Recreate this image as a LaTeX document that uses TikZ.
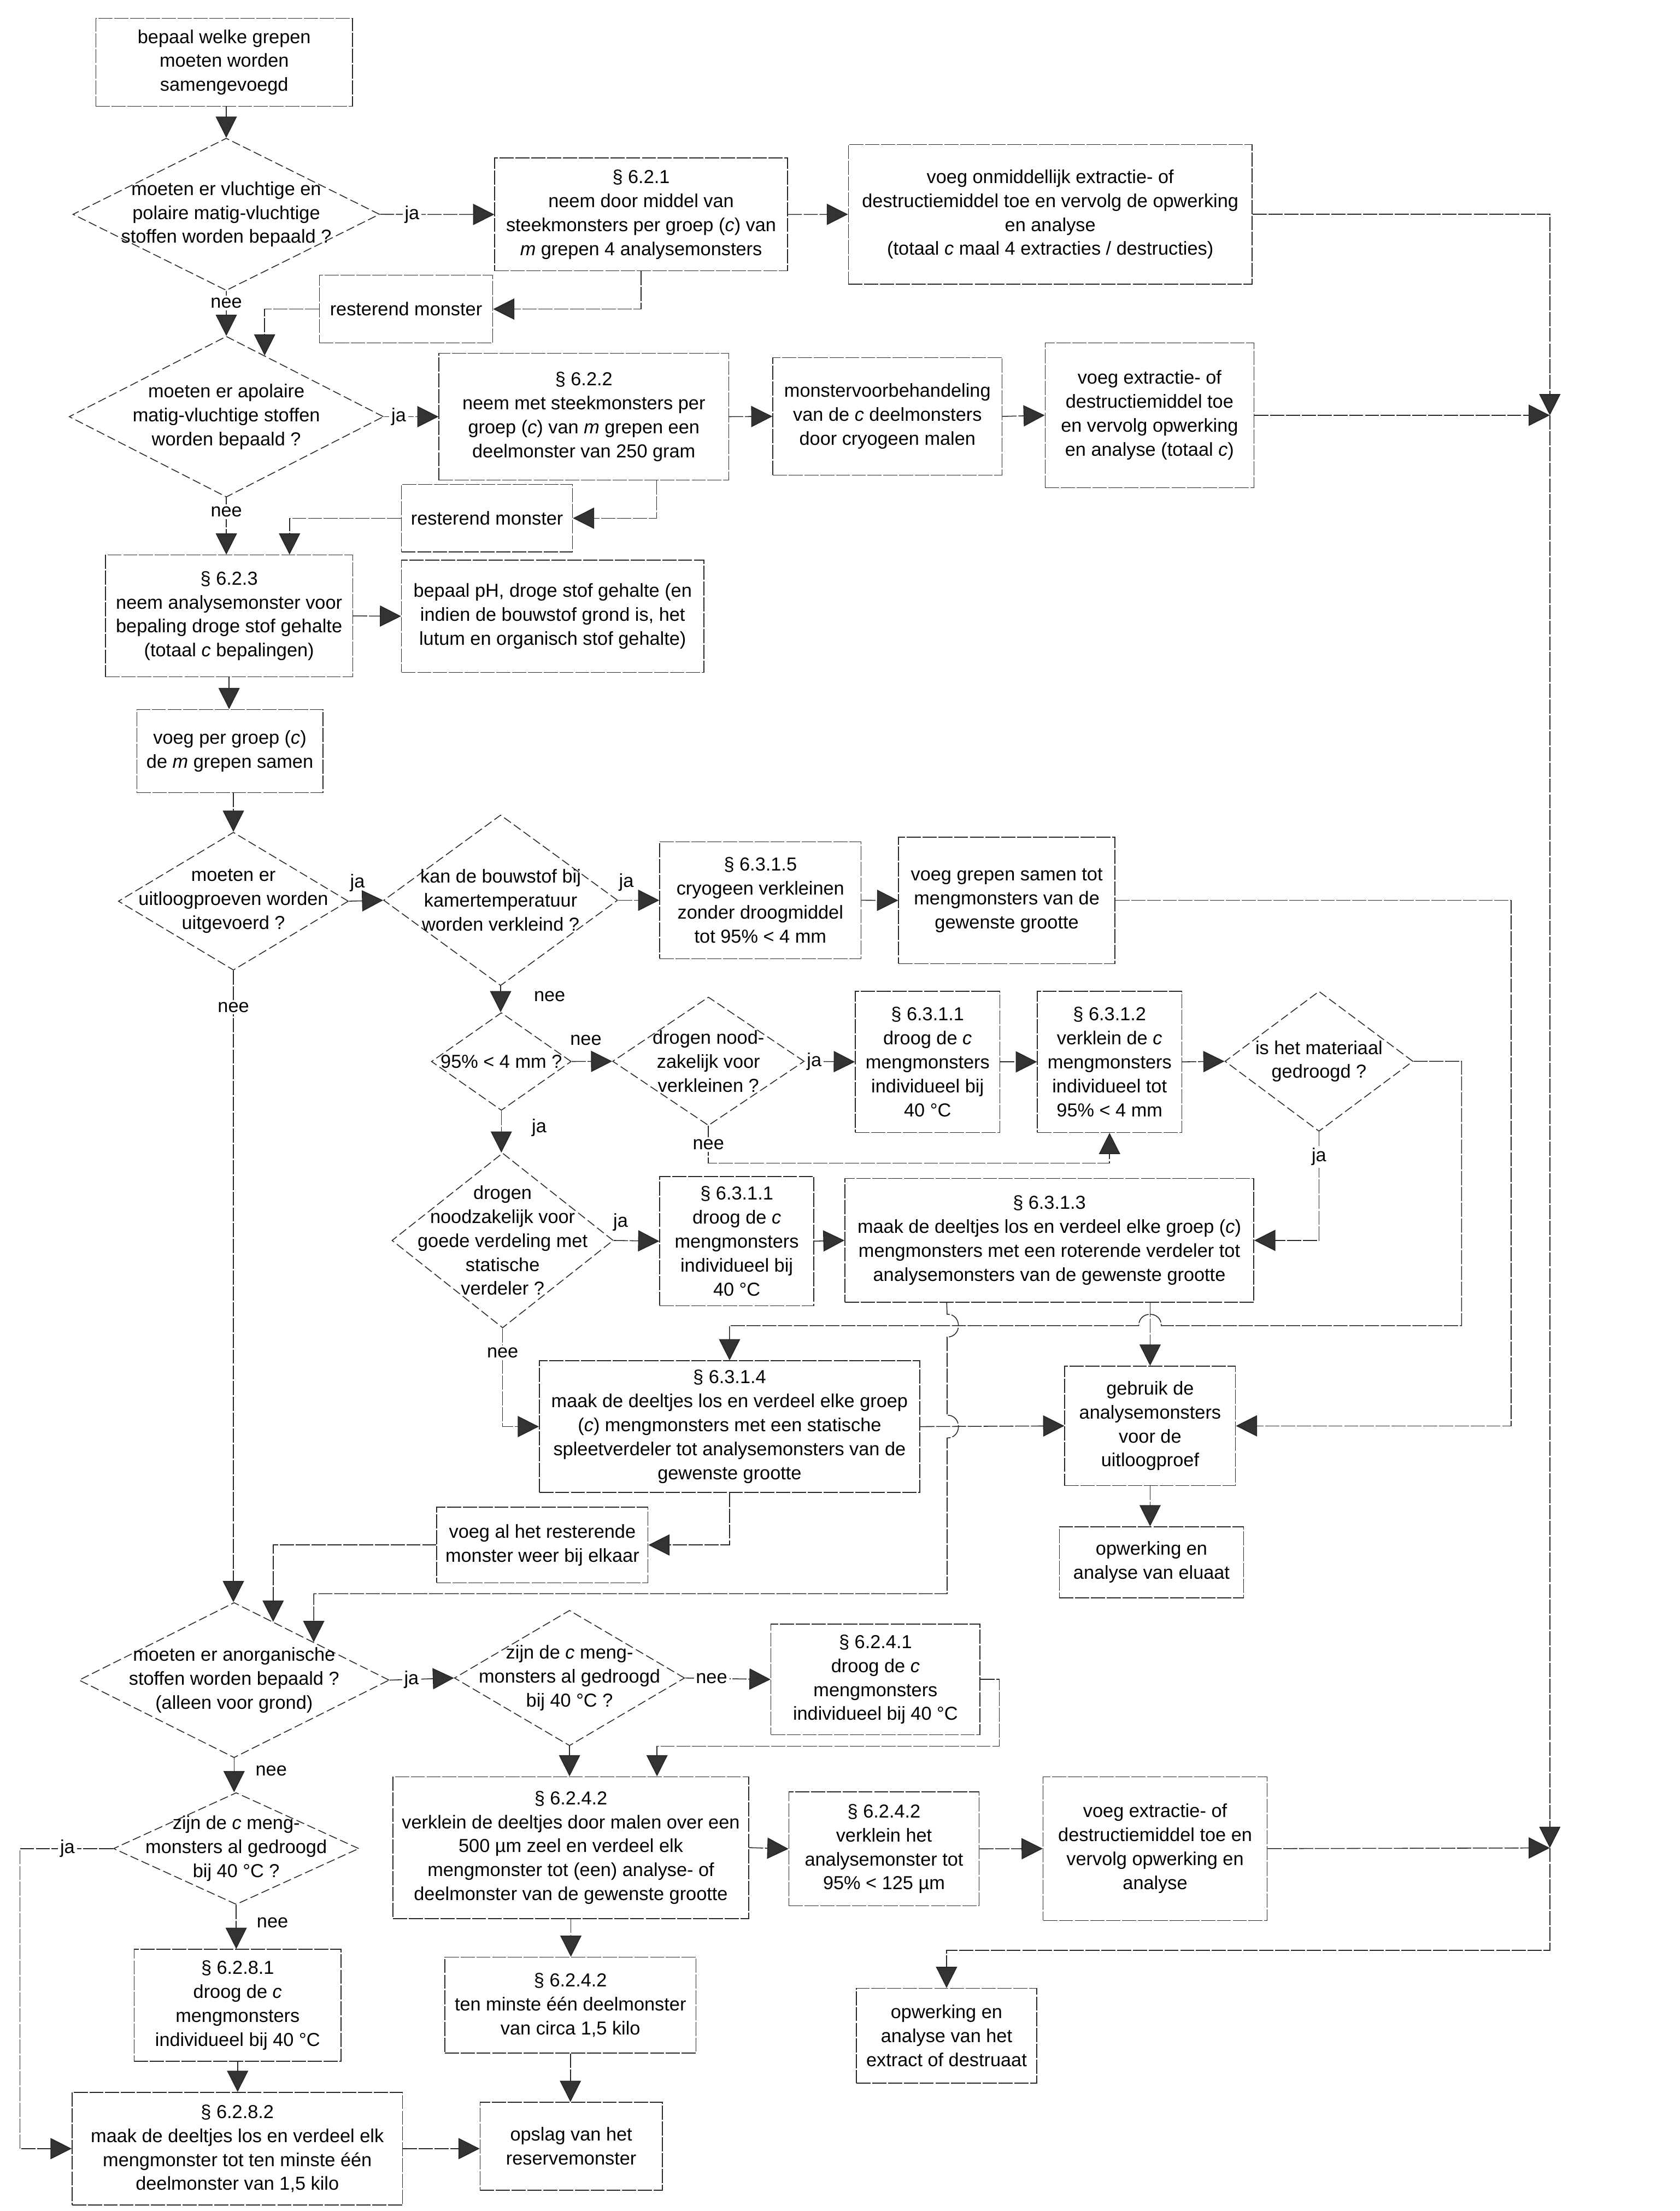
\documentclass[tikz,border=0pt]{standalone}
\usepackage{fontspec}
\setmainfont{Liberation Sans}
\usetikzlibrary{arrows.meta,shapes.geometric,calc}
\begin{document}
\begin{tikzpicture}[x=1pt,y=-1pt,
  every node/.style={font=\fontsize{13.3}{17}\selectfont, text=black},
  line/.style={draw=black!85, line width=0.6pt, dash pattern=on 10pt off 1.2pt},
  box/.style={line, rectangle, inner sep=0pt, align=center},
  dia/.style={line, diamond, inner sep=0pt, dash pattern=on 6pt off 2.5pt},
  txt/.style={align=center, inner sep=0pt},
  arr/.style={line, -{Triangle[length=15pt,width=15pt,fill=black!80]}},
  lbl/.style={fill=white, inner sep=1.5pt},
]
\fill[white] (0,0) rectangle (1191,1568);
\useasboundingbox (0,0) rectangle (1191,1568);

% ---------- nodes ----------
\node[box, minimum width=182pt, minimum height=62.3pt] (b1) at (159,44.2) {bepaal welke grepen\\moeten worden\\samengevoegd};

\node[dia, minimum width=217.5pt, minimum height=108pt] (d1) at (160.45,152) {};
\node[txt] (d1t) at (d1) {moeten er vluchtige en\\polaire matig-vluchtige\\stoffen worden bepaald ?};

\node[box, minimum width=207.6pt, minimum height=80pt] (b621) at (454.6,152.1) {§ 6.2.1\\neem door middel van\\steekmonsters per groep (\textit{c}) van\\\textit{m} grepen 4 analysemonsters};

\node[box, minimum width=286.3pt, minimum height=99pt] (voeg1) at (744.75,152) {voeg onmiddellijk extractie- of\\destructiemiddel toe en vervolg de opwerking\\en analyse\\(totaal \textit{c} maal 4 extracties / destructies)};

\node[box, minimum width=122.9pt, minimum height=48pt] (rm1) at (287.95,219.2) {resterend monster};

\node[dia, minimum width=223pt, minimum height=114pt] (d2) at (160.5,295.5) {};
\node[txt] (d2t) at (d2) {moeten er apolaire\\matig-vluchtige stoffen\\worden bepaald ?};

\node[box, minimum width=205.5pt, minimum height=90pt] (b622) at (414,295.5) {§ 6.2.2\\neem met steekmonsters per\\groep (\textit{c}) van \textit{m} grepen een\\deelmonster van 250 gram};

\node[box, minimum width=162.6pt, minimum height=83.4pt] (mvb) at (629.3,295.3) {monstervoorbehandeling\\van de \textit{c} deelmonsters\\door cryogeen malen};

\node[box, minimum width=148.1pt, minimum height=102.6pt] (voeg2) at (815.15,294.5) {voeg extractie- of\\destructiemiddel toe\\en vervolg opwerking\\en analyse (totaal \textit{c})};

\node[box, minimum width=121.3pt, minimum height=48pt] (rm2) at (345.35,367.5) {resterend monster};

\node[box, minimum width=175.3pt, minimum height=86.4pt] (b623) at (162.45,436.8) {§ 6.2.3\\neem analysemonster voor\\bepaling droge stof gehalte\\(totaal \textit{c} bepalingen)};

\node[box, minimum width=214.4pt, minimum height=79.7pt] (bph) at (391.9,437) {bepaal pH, droge stof gehalte (en\\indien de bouwstof grond is, het\\lutum en organisch stof gehalte)};

\node[box, minimum width=132pt, minimum height=59pt] (vpg) at (163,532.7) {voeg per groep (\textit{c})\\de \textit{m} grepen samen};

\node[dia, minimum width=163.2pt, minimum height=97.8pt] (d3) at (165.5,639.1) {};
\node[txt] (d3t) at (d3) {moeten er\\uitloogproeven worden\\uitgevoerd ?};

\node[dia, minimum width=166pt, minimum height=121pt] (d4) at (355,638.45) {};
\node[txt] (d4t) at (d4) {kan de bouwstof bij\\kamertemperatuur\\worden verkleind ?};

\node[box, minimum width=142.8pt, minimum height=82.9pt] (b6315) at (539.2,638.45) {§ 6.3.1.5\\cryogeen verkleinen\\zonder droogmiddel\\tot 95\% < 4 mm};

\node[box, minimum width=153.4pt, minimum height=89.7pt] (vgs) at (713.9,638.55) {voeg grepen samen tot\\mengmonsters van de\\gewenste grootte};

\node[dia, minimum width=99.2pt, minimum height=69.3pt] (d5) at (355.5,752.8) {};
\node[txt] (d5t) at (d5) {95\% < 4 mm ?};

\node[dia, minimum width=135.9pt, minimum height=91.1pt] (d10) at (502.35,752.65) {};
\node[txt] (d10t) at (d10) {drogen nood-\\zakelijk voor\\verkleinen ?};

\node[box, minimum width=102.5pt, minimum height=100.1pt] (b6311a) at (657.75,753.05) {§ 6.3.1.1\\droog de \textit{c}\\mengmonsters\\individueel bij\\40 °C};

\node[box, minimum width=102.4pt, minimum height=100.1pt] (b6312) at (786.8,753.05) {§ 6.3.1.2\\verklein de \textit{c}\\mengmonsters\\individueel tot\\95\% < 4 mm};

\node[dia, minimum width=133.4pt, minimum height=99.3pt] (d11) at (935.3,752.65) {};
\node[txt] (d11t) at (d11) {is het materiaal\\gedroogd ?};

\node[dia, minimum width=157pt, minimum height=124pt] (d6) at (356.4,879.7) {};
\node[txt] (d6t) at (d6) {drogen\\noodzakelijk voor\\goede verdeling met\\statische\\verdeler ?};

\node[box, minimum width=109.3pt, minimum height=91.6pt] (b6311b) at (522.45,880.2) {§ 6.3.1.1\\droog de \textit{c}\\mengmonsters\\individueel bij\\40 °C};

\node[box, minimum width=290pt, minimum height=87.9pt] (b6313) at (744.1,879.65) {§ 6.3.1.3\\maak de deeltjes los en verdeel elke groep (\textit{c})\\mengmonsters met een roterende verdeler tot\\analysemonsters van de gewenste grootte};

\node[box, minimum width=269.9pt, minimum height=93.4pt] (b6314) at (517.35,1011.7) {§ 6.3.1.4\\maak de deeltjes los en verdeel elke groep\\(\textit{c}) mengmonsters met een statische\\spleetverdeler tot analysemonsters van de\\gewenste grootte};

\node[box, minimum width=121.1pt, minimum height=84.8pt] (gebruik) at (815.55,1011.2) {gebruik de\\analysemonsters\\voor de\\uitloogproef};

\node[box, minimum width=130.7pt, minimum height=50.5pt] (oae) at (816.55,1107.95) {opwerking en\\analyse van eluaat};

\node[box, minimum width=149.8pt, minimum height=53.7pt] (vah) at (384.6,1095.65) {voeg al het resterende\\monster weer bij elkaar};

\node[dia, minimum width=220pt, minimum height=110pt] (d7) at (166,1191.5) {};
\node[txt] (d7t) at (d7) {moeten er anorganische\\stoffen worden bepaald ?\\(alleen voor grond)};

\node[dia, minimum width=163.3pt, minimum height=96pt] (d8) at (403.85,1190) {};
\node[txt] (d8t) at (d8) {zijn de \textit{c} meng-\\monsters al gedroogd\\bij 40 °C ?};

\node[box, minimum width=148.2pt, minimum height=78.4pt] (b6241) at (620.8,1191) {§ 6.2.4.1\\droog de \textit{c}\\mengmonsters\\individueel bij 40 °C};

\node[dia, minimum width=174pt, minimum height=79.3pt] (d9) at (167.5,1310.95) {};
\node[txt] (d9t) at (d9) {zijn de \textit{c} meng-\\monsters al gedroogd\\bij 40 °C ?};

\node[box, minimum width=252.2pt, minimum height=100.6pt] (b6242a) at (404.8,1310.3) {§ 6.2.4.2\\verklein de deeltjes door malen over een\\500 µm zeel en verdeel elk\\mengmonster tot (een) analyse- of\\deelmonster van de gewenste grootte};

\node[box, minimum width=134.9pt, minimum height=80.7pt] (b6242b) at (626.85,1311.15) {§ 6.2.4.2\\verklein het\\analysemonster tot\\95\% < 125 µm};

\node[box, minimum width=158.8pt, minimum height=102pt] (voeg3) at (819.1,1311) {voeg extractie- of\\destructiemiddel toe en\\vervolg opwerking en\\analyse};

\node[box, minimum width=146.8pt, minimum height=79.3pt] (b6281) at (168.5,1422.05) {§ 6.2.8.1\\droog de \textit{c}\\mengmonsters\\individueel bij 40 °C};

\node[box, minimum width=234.4pt, minimum height=79.9pt] (b6282) at (168.3,1523.75) {§ 6.2.8.2\\maak de deeltjes los en verdeel elk\\mengmonster tot ten minste één\\deelmonster van 1,5 kilo};

\node[box, minimum width=178.2pt, minimum height=68pt] (b6242c) at (404.5,1422) {§ 6.2.4.2\\ten minste één deelmonster\\van circa 1,5 kilo};

\node[box, minimum width=129.3pt, minimum height=62.3pt] (opslag) at (405.05,1522.05) {opslag van het\\reservemonster};

\node[box, minimum width=127.8pt, minimum height=67.2pt] (oaex) at (671.2,1443.7) {opwerking en\\analyse van het\\extract of destruaat};

\coordinate (J1) at (1099,294.5);
\coordinate (J2) at (1099,1310.5);
\coordinate (J3) at (1099,1383.2);
\coordinate (R1) at (1071.5,638.55);
\coordinate (R2) at (1036.4,752.65);
\coordinate (R3) at (1036.4,940.1);
\coordinate (V1) at ($(b6313.south west)+(72.5,0)$);

% ---------- connectors ----------
\draw[arr] (d1.north |- b1.south) -- (d1.north);
\draw[arr] (d1.east) -- node[lbl,pos=0.28]{ja} (b621.west);
\draw[arr] (b621.east) -- (voeg1.west);
\draw[arr] (voeg1.east) -| (J1);
\draw[arr] (voeg2.east) -- (J1);
\draw[arr] (J1) -- (J2);
\draw[arr] (voeg3.east) -- (J2);
\draw[arr] (J2) -- (J3) -| (oaex.north);

\draw[arr] (d1.south) -- node[lbl,pos=0.27]{nee} (d2.north);
\draw[arr] (b621.south) |- (rm1.east);
\draw[arr] (rm1.west) -| ($(d2.north)!0.243!(d2.east)$);
\draw[arr] (d2.east) -- node[lbl,pos=0.27]{ja} (b622.west);
\draw[arr] (b622.east) -- (mvb.west);
\draw[arr] (mvb.east) -- (voeg2.west);
\draw[arr] (d2.south) -- node[lbl,pos=0.25]{nee} (d2.south |- b623.north);
\draw[arr] ($(b622.south)+(51.6,0)$) |- (rm2.east);
\draw[arr] (rm2.west) -| ($(b623.north)+(42.85,0)$);
\draw[arr] (b623.east) -- (bph.west);
\draw[arr] (b623.south) -- (b623.south |- vpg.north);
\draw[arr] (d3.north |- vpg.south) -- (d3.north);

\draw[arr] (d3.east) -- node[above=3pt,pos=0.25]{ja} (d4.west);
\draw[arr] (d3.south) -- node[lbl,pos=0.058]{nee} (d3.south |- d7.north);
\draw[arr] (d4.east) -- node[above=3pt,pos=0.2]{ja} (b6315.west);
\draw[arr] (b6315.east) -- (vgs.west);
\draw[arr] (vgs.east) -- (R1) |- (gebruik.east);
\draw[arr] (d4.south) -- node[right=20pt,pos=0.4]{nee} (d4.south |- d5.north);
\draw[arr] (d5.east) -- node[above=8pt,pos=0.35]{nee} (d10.west);
\draw[arr] (d10.east) -- node[lbl,pos=0.19]{ja} (b6311a.west);
\draw[arr] (b6311a.east) -- (b6312.west);
\draw[arr] (b6312.east) -- (d11.west);
\draw[arr] (d10.south) -- node[lbl]{nee} ($(d10.south)+(0,26.4)$) -| (b6312.south);
\draw[arr] (d5.south) -- node[right=18pt,pos=0.4]{ja} (d5.south |- d6.north);
\draw[arr] (d6.east) -- node[above=3pt,pos=0.15]{ja} (b6311b.west);
\draw[arr] (b6311b.east) -- (b6313.west);
\draw[arr] (d6.south) -- node[lbl,pos=0.25]{nee} (d6.south |- b6314.west) -- (b6314.west);
\draw[arr] (d11.south) -- node[lbl,pos=0.23]{ja} (d11.south |- b6313.east) -- (b6313.east);
\draw[arr] (d11.east) -- (R2) -- (R3) -- (823.5,940.1) .. controls (823.5,929.4) and (807.5,929.4) .. (807.5,940.1) -| (b6314.north);
\draw[arr] (gebruik.north |- b6313.south) -- (gebruik.north);
\draw[arr] (V1) -- (671.6,932) .. controls (682.3,932) and (682.3,948.2) .. (671.6,948.2) -- (671.6,1003.6) .. controls (682.3,1003.6) and (682.3,1019.8) .. (671.6,1019.8) -- (671.6,1130.2) -| ($(d7.north)!0.512!(d7.east)$);
\draw[arr] (b6314.east) -- (gebruik.west);
\draw[arr] (gebruik.south) -- (gebruik.south |- oae.north);
\draw[arr] (b6314.south) |- (vah.east);
\draw[arr] (vah.west) -| ($(d7.north)!0.251!(d7.east)$);

\draw[arr] (d7.east) -- node[lbl,pos=0.34]{ja} (d8.west);
\draw[arr] (d8.east) -- node[lbl,pos=0.31]{nee} (b6241.west);
\draw[arr] (b6241.east) -- ++(13.5,0) |- ($(b6242a.north)+(61.1,-21.3)$) -- ($(b6242a.north)+(61.1,0)$);
\draw[arr] (d8.south) -- (d8.south |- b6242a.north);
\draw[arr] (b6242a.east) -- (b6242b.west);
\draw[arr] (b6242b.east) -- (voeg3.west);
\draw[arr] (b6242a.south) -- (b6242a.south |- b6242c.north);
\draw[arr] (b6242c.south) -- (b6242c.south |- opslag.north);
\draw[arr] (d7.south) -- node[right=11.6pt,pos=0.37]{nee} (d7.south |- d9.north);
\draw[arr] (d9.south) -- node[right=11pt,pos=0.4]{nee} (d9.south |- b6281.north);
\draw[arr] (b6281.south) -- (b6281.south |- b6282.north);
\draw[arr] (d9.west) -- node[lbl,pos=0.49]{ja} (14.1,1310.95) |- (b6282.west);
\draw[arr] (b6282.east) -- (b6282.east -| opslag.west);
\end{tikzpicture}
\end{document}
